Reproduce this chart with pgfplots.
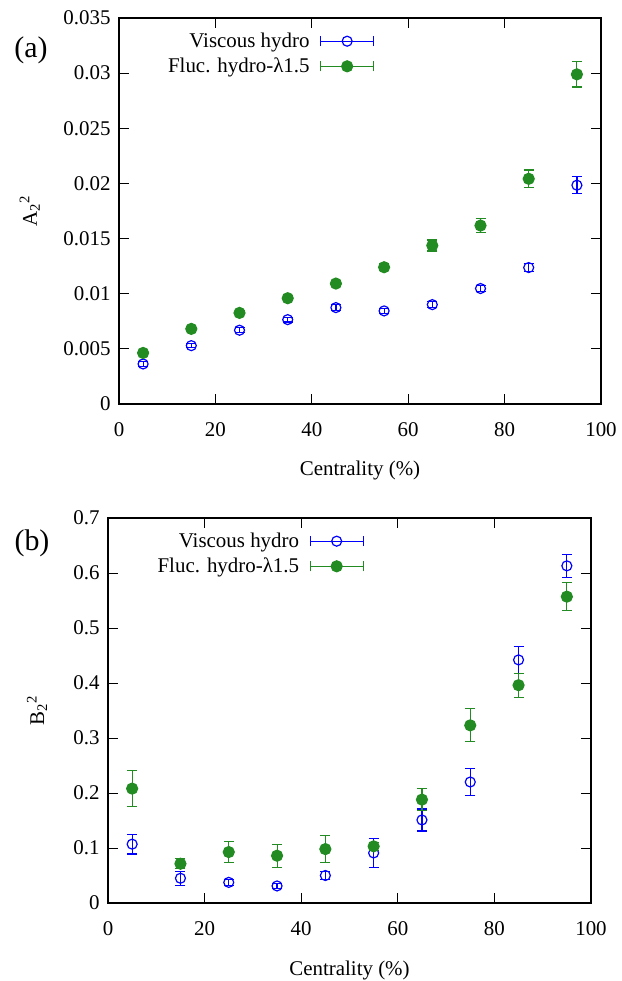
\documentclass[border=0pt]{standalone}
\usepackage{pgfplots}
\pgfplotsset{compat=1.18}
\usepackage{fontspec}
\setmainfont{Liberation Serif}
\newcommand{\fsz}{\fontsize{21}{25}\selectfont}
\definecolor{fgreen}{RGB}{34,139,34}
\definecolor{vblue}{RGB}{0,0,255}

\pgfplotstableread{
x y ey
5 0.00363 0.00020
15 0.00529 0.00020
25 0.00669 0.00022
35 0.00765 0.00022
45 0.00874 0.00025
55 0.00844 0.00025
65 0.00901 0.00025
75 0.01047 0.00030
85 0.01237 0.00035
95 0.01984 0.00079
}\Aviscous
\pgfplotstableread{
x y ey
5 0.00463 0.00015
15 0.00681 0.00015
25 0.00826 0.00018
35 0.00959 0.00020
45 0.01092 0.00025
55 0.01240 0.00030
65 0.01437 0.00050
75 0.01618 0.00060
85 0.02042 0.00080
95 0.02989 0.00115
}\Afluc
\pgfplotstableread{
x y ey
5 0.107 0.018
15 0.045 0.013
25 0.0375 0.005
35 0.031 0.004
45 0.050 0.007
55 0.091 0.027
65 0.151 0.020
75 0.220 0.024
85 0.442 0.024
95 0.613 0.021
}\Bviscous
\pgfplotstableread{
x y ey
5 0.208 0.033
15 0.0714 0.009
25 0.0926 0.019
35 0.086 0.021
45 0.098 0.025
55 0.103 0.007
65 0.188 0.020
75 0.323 0.030
85 0.396 0.022
95 0.557 0.025
}\Bfluc

\pgfplotsset{
  myaxis/.style={
    scale only axis,
    xmin=0, xmax=100,
    xtick={0,20,40,60,80,100},
    xticklabels={0,20,40,60,80,100},
    scaled y ticks=false,
    scaled x ticks=false,
    tick align=inside,
    major tick length=10bp,
    axis line style={line width=1.1bp},
    every tick/.style={black, line width=1bp},
    tick label style={font=\fsz},
    xticklabel style={yshift=-15bp},
    yticklabel style={xshift=-5bp},
    label style={font=\fsz},
    xlabel={Centrality (\%)},
    xlabel style={at={(axis description cs:0.5,0)}, anchor=center, yshift=-67bp},
    legend cell align=right,
    legend plot pos=right,
    legend style={draw=none, fill=none, font=\fsz, inner sep=0pt,
      nodes={inner sep=1.5bp}, row sep=6bp, column sep=9bp},
    legend image code/.code={
      \draw[##1, mark=none] (0bp,-5bp) -- (0bp,5bp) (0bp,0bp) -- (53bp,0bp) (53bp,-5bp) -- (53bp,5bp);
      \draw[##1] plot coordinates {(26.5bp,0bp)};
    },
  },
  vstyle/.style={vblue, only marks, mark=o, mark size=5bp, line width=1.2bp,
    error bars/.cd, y dir=both, y explicit,
    error bar style={line width=1.2bp, vblue},
    error mark options={rotate=90, mark size=5bp, line width=1.2bp, vblue}},
  fstyle/.style={fgreen, only marks, mark=*, mark size=5.5bp, line width=1.2bp,
    error bars/.cd, y dir=both, y explicit,
    error bar style={line width=1.1bp, fgreen},
    error mark options={rotate=90, mark size=5bp, line width=1.1bp, fgreen}},
}

\begin{document}
\begin{tikzpicture}
\path[use as bounding box] (0,0) rectangle (622bp,981bp);
\begin{axis}[myaxis,
  at={(119bp,577bp)}, anchor=south west,
  width=482bp, height=386bp,
  ymin=0, ymax=0.035,
  ytick={0,0.005,0.01,0.015,0.02,0.025,0.03,0.035},
  yticklabels={0,0.005,0.01,0.015,0.02,0.025,0.03,0.035},
  ylabel={A\textsubscript{2}\textsuperscript{2}},
  ylabel style={at={(axis description cs:-0.185,0.5)}, anchor=center},
  legend style={at={(axis description cs:0.530,0.965)}, anchor=north east},
]
\addplot[vstyle] table[x=x, y=y, y error=ey] {\Aviscous};
\addlegendentry{Viscous hydro}
\addplot[fstyle] table[x=x, y=y, y error=ey] {\Afluc};
\addlegendentry{Fluc. hydro-λ1.5}
\end{axis}

\begin{axis}[myaxis,
  at={(108bp,78bp)}, anchor=south west,
  width=483bp, height=385bp,
  ymin=0, ymax=0.7,
  ytick={0,0.1,0.2,0.3,0.4,0.5,0.6,0.7},
  yticklabels={0,0.1,0.2,0.3,0.4,0.5,0.6,0.7},
  ylabel={B\textsubscript{2}\textsuperscript{2}},
  ylabel style={at={(axis description cs:-0.147,0.5)}, anchor=center},
  legend style={at={(axis description cs:0.530,0.965)}, anchor=north east},
]
\addplot[vstyle] table[x=x, y=y, y error=ey] {\Bviscous};
\addlegendentry{Viscous hydro}
\addplot[fstyle] table[x=x, y=y, y error=ey] {\Bfluc};
\addlegendentry{Fluc. hydro-λ1.5}
\end{axis}

\node[font=\fontsize{30}{32}\selectfont] at (31bp,931bp) {(a)};
\node[font=\fontsize{30}{32}\selectfont] at (32bp,438bp) {(b)};
\end{tikzpicture}
\end{document}
